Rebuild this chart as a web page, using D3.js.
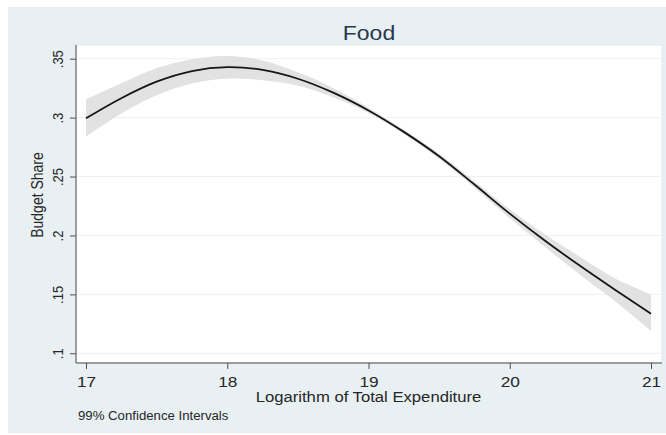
<!DOCTYPE html>
<html>
<head>
<meta charset="utf-8">
<script src="https://cdn.jsdelivr.net/npm/d3@7"></script>
<style>
  html, body { margin: 0; padding: 0; background: #ffffff; }
  svg { display: block; }
  text { font-family: "Liberation Sans", Arial, Helvetica, sans-serif; }
</style>
</head>
<body>
<svg id="chart" width="666" height="435"></svg>
<script>
// Fitted food budget share over log total expenditure, with 99% confidence band
const logExpenditure = [17, 17.25, 17.5, 17.75, 18, 18.25, 18.5, 18.75, 19, 19.25, 19.5, 19.75, 20, 20.25, 20.5, 20.75, 21];
const budgetShare    = [0.2994, 0.3165, 0.3305, 0.3395, 0.3428, 0.3405, 0.3330, 0.3212, 0.3061, 0.2879, 0.2672, 0.2432, 0.2185, 0.1955, 0.1740, 0.1535, 0.1336];
const lowerBound     = [0.2838, 0.3035, 0.3190, 0.3290, 0.3330, 0.3318, 0.3272, 0.3172, 0.3039, 0.2861, 0.2650, 0.2404, 0.2146, 0.1902, 0.1665, 0.1437, 0.1190];
const upperBound     = [0.3155, 0.3292, 0.3418, 0.3495, 0.3522, 0.3485, 0.3385, 0.3252, 0.3083, 0.2897, 0.2694, 0.2460, 0.2222, 0.2008, 0.1818, 0.1632, 0.1500];

const xTicks = [17, 18, 19, 20, 21];
const xTickLabels = ["17", "18", "19", "20", "21"];
const yTicks = [0.1, 0.15, 0.2, 0.25, 0.3, 0.35];
const yTickLabels = [".1", ".15", ".2", ".25", ".3", ".35"];

const titleText = "Food";
const xTitle = "Logarithm of Total Expenditure";
const yTitle = "Budget Share";
const noteText = "99% Confidence Intervals";

const rows = logExpenditure.map((x, i) => ({ x, y: budgetShare[i], lo: lowerBound[i], hi: upperBound[i] }));

const svg = d3.select("#chart");
const W = 666, H = 435;

// plot region box
const plot = { left: 76, right: 662, top: 45, bottom: 363 };

// glyphs are drawn slightly wide
const SX = 1.15;

const x = d3.scaleLinear().domain([17, 21]).range([86, 651]);
const y = d3.scaleLinear().domain([0.1, 0.35]).range([353.3, 58.7]);

// outer graph background
svg.append("rect").attr("x", 0).attr("y", 0).attr("width", W).attr("height", H).attr("fill", "#ffffff");
svg.append("rect").attr("x", 8).attr("y", 7).attr("width", W - 8).attr("height", H - 9)
  .attr("fill", "#e9f0f3");

// plot region
svg.append("rect")
  .attr("x", plot.left).attr("y", plot.top)
  .attr("width", plot.right - plot.left).attr("height", plot.bottom - plot.top)
  .attr("fill", "#ffffff").attr("stroke", "#dfe7eb").attr("stroke-width", 1);

// horizontal grid
svg.append("g").selectAll("line").data(yTicks).join("line")
  .attr("x1", plot.left).attr("x2", plot.right)
  .attr("y1", d => y(d)).attr("y2", d => y(d))
  .attr("stroke", "#ecf1f4").attr("stroke-width", 1);

// confidence band
const band = d3.area()
  .x(d => x(d.x)).y0(d => y(d.lo)).y1(d => y(d.hi))
  .curve(d3.curveCatmullRom);
svg.append("path").datum(rows).attr("d", band).attr("fill", "#e2e2e2");

// fitted line
const line = d3.line().x(d => x(d.x)).y(d => y(d.y)).curve(d3.curveCatmullRom);
svg.append("path").datum(rows).attr("d", line)
  .attr("fill", "none").attr("stroke", "#161616").attr("stroke-width", 1.8);

// axes
const axisColor = "#4d4d4d";
const textColor = "#262626";

const gx = svg.append("g").attr("transform", `translate(0,${plot.bottom})`)
  .call(d3.axisBottom(x).tickValues(xTicks).tickSize(6).tickSizeOuter(0)
    .tickFormat((d, i) => xTickLabels[i]));
gx.select(".domain").remove();
gx.selectAll(".tick line").attr("stroke", axisColor);
gx.selectAll(".tick text")
  .attr("x", 0).attr("y", 0).attr("dy", null)
  .attr("transform", `translate(0,23.5) scale(${SX},1)`)
  .attr("font-size", 15).attr("fill", textColor).attr("text-anchor", "middle");

const gy = svg.append("g").attr("transform", `translate(${plot.left},0)`)
  .call(d3.axisLeft(y).tickValues(yTicks).tickSize(6).tickSizeOuter(0)
    .tickFormat((d, i) => yTickLabels[i]));
gy.select(".domain").remove();
gy.selectAll(".tick line").attr("stroke", axisColor);
gy.selectAll(".tick text")
  .attr("x", 0).attr("y", 0).attr("dy", null)
  .attr("transform", `translate(-13,0) scale(${SX},1) rotate(-90)`)
  .attr("font-size", 13).attr("fill", textColor).attr("text-anchor", "middle");

// axis lines along the plot region
svg.append("line").attr("x1", plot.left).attr("x2", plot.left)
  .attr("y1", plot.top).attr("y2", plot.bottom).attr("stroke", axisColor);
svg.append("line").attr("x1", plot.left).attr("x2", plot.right)
  .attr("y1", plot.bottom).attr("y2", plot.bottom).attr("stroke", axisColor);

// titles
svg.append("text").text(titleText)
  .attr("transform", `translate(${(plot.left + plot.right) / 2},40) scale(${SX},1)`)
  .attr("text-anchor", "middle").attr("font-size", 20).attr("fill", "#28374a");

svg.append("text").text(xTitle)
  .attr("transform", `translate(${x(19)},401.5) scale(${SX},1)`)
  .attr("text-anchor", "middle").attr("font-size", 14.5).attr("fill", textColor);

svg.append("text").text(yTitle)
  .attr("transform", `translate(43,195) scale(${SX},1) rotate(-90)`)
  .attr("text-anchor", "middle").attr("font-size", 14).attr("fill", textColor);

svg.append("text").text(noteText)
  .attr("transform", `translate(78,420) scale(1.1,1)`)
  .attr("text-anchor", "start").attr("font-size", 12).attr("fill", textColor);
</script>
</body>
</html>
